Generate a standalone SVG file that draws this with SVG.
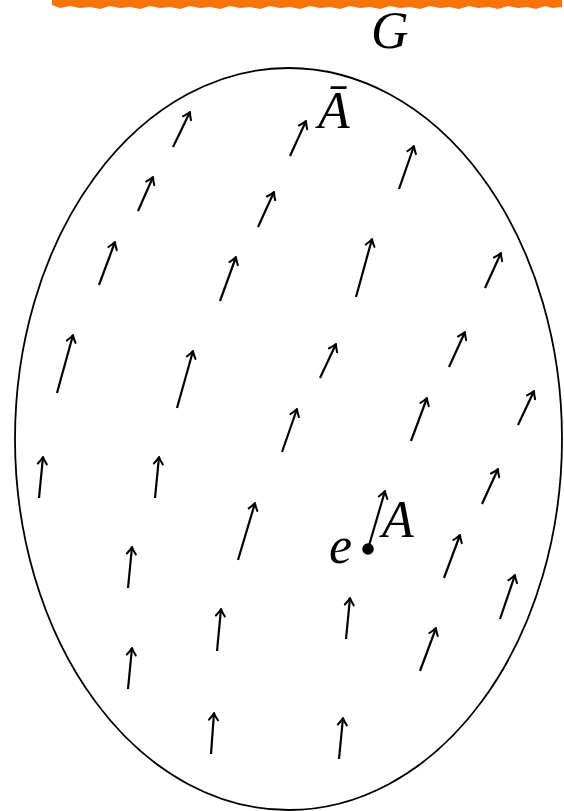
<svg xmlns="http://www.w3.org/2000/svg" width="564" height="811" viewBox="0 0 564 811">
  <defs>
    <marker id="ah" markerUnits="userSpaceOnUse" markerWidth="16" markerHeight="16" viewBox="-9 -8 11 16" refX="0" refY="0" orient="auto">
      <path d="M-7,-4.5 Q-2.8,-1.2 0,0 Q-2.8,1.2 -7,4.5" fill="none" stroke="#000" stroke-width="2" stroke-linecap="round" stroke-linejoin="round"/>
    </marker>
    <style>
      .lbl { font-family: "Liberation Serif", "DejaVu Serif", serif; font-style: italic; font-size: 52px; fill: #000; }
      .vec { stroke: #000; stroke-width: 2.2; fill: none; marker-end: url(#ah); }
      .set { fill: none; stroke: #000; stroke-width: 1.8; }
    </style>
  </defs>
  <rect width="564" height="811" fill="#fff"/>

  <g id="highlight">
    <path d="M52,0 L562,0 L562,7 L552,8 L545,6 L536,9 L527,7 L518,8 L508,6 L498,9 L489,7 L478,8 L469,6 L459,9 L449,7 L440,8 L430,6 L420,9 L410,7 L400,8 L390,6 L380,9 L370,7 L360,8 L350,6 L340,9 L330,7 L320,8 L310,6 L300,9 L290,7 L280,8 L270,6 L260,9 L250,7 L240,8 L230,6 L220,9 L210,7 L200,8 L190,6 L180,9 L170,7 L160,8 L150,6 L140,9 L130,7 L120,8 L110,6 L100,9 L90,7 L80,8 L70,6 L60,8 L52,5 Z" fill="#f97306"/>
  </g>

  <g id="G">
    <ellipse class="set" cx="288.5" cy="439" rx="273.5" ry="371"/>
    <text class="lbl" x="371" y="48">G</text>
  </g>

  <g id="Abar">
    <text class="lbl" x="318" y="128">Ā</text>
  </g>

  <g id="e">
    <circle cx="368" cy="549" r="5.8" fill="#000"/>
    <text class="lbl" x="329" y="563">e</text>
  </g>

  <g id="A">
    <text class="lbl" x="382" y="537">A</text>
  </g>

  <g id="connectors">
    <line class="vec" x1="173" y1="147" x2="190" y2="112"/>
    <line class="vec" x1="138" y1="211" x2="153" y2="177"/>
    <line class="vec" x1="290" y1="156" x2="306" y2="121"/>
    <line class="vec" x1="258" y1="227" x2="274" y2="192"/>
    <line class="vec" x1="399" y1="189" x2="414" y2="146"/>
    <line class="vec" x1="99" y1="285" x2="115" y2="242"/>
    <line class="vec" x1="220" y1="301" x2="236" y2="257"/>
    <line class="vec" x1="356" y1="297" x2="372" y2="239"/>
    <line class="vec" x1="485" y1="288" x2="501" y2="253"/>
    <line class="vec" x1="57" y1="393" x2="73" y2="335"/>
    <line class="vec" x1="177" y1="408" x2="193" y2="351"/>
    <line class="vec" x1="320" y1="378" x2="336" y2="344"/>
    <line class="vec" x1="449" y1="367" x2="465" y2="332"/>
    <line class="vec" x1="282" y1="452" x2="297" y2="409"/>
    <line class="vec" x1="411" y1="441" x2="427" y2="398"/>
    <line class="vec" x1="518" y1="425" x2="534" y2="391"/>
    <line class="vec" x1="39" y1="498" x2="43" y2="457"/>
    <line class="vec" x1="155" y1="498" x2="159" y2="457"/>
    <line class="vec" x1="482" y1="504" x2="498" y2="469"/>
    <line class="vec" x1="238" y1="560" x2="255" y2="503"/>
    <line class="vec" x1="368" y1="549" x2="385" y2="491"/>
    <line class="vec" x1="444" y1="578" x2="460" y2="535"/>
    <line class="vec" x1="128" y1="588" x2="132" y2="547"/>
    <line class="vec" x1="500" y1="619" x2="515" y2="575"/>
    <line class="vec" x1="217" y1="651" x2="221" y2="609"/>
    <line class="vec" x1="346" y1="639" x2="350" y2="598"/>
    <line class="vec" x1="420" y1="671" x2="436" y2="628"/>
    <line class="vec" x1="128" y1="689" x2="132" y2="648"/>
    <line class="vec" x1="211" y1="754" x2="214" y2="713"/>
    <line class="vec" x1="339" y1="759" x2="343" y2="718"/>
  </g>
</svg>
